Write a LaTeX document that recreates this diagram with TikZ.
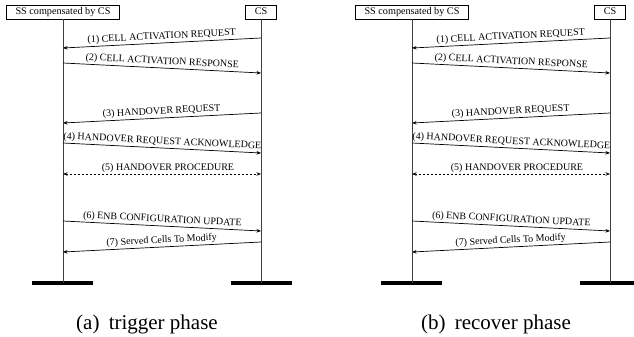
\documentclass[tikz,border=0pt]{standalone}
\usepackage{fontspec}
\setmainfont{Liberation Serif}
\usetikzlibrary{arrows.meta}
\tikzset{
  entity/.style={draw, line width=0.8pt, inner xsep=9pt, inner ysep=0pt,
    minimum height=14pt, text height=7pt, text depth=2pt,
    font=\fontsize{10.2}{12}\selectfont},
  msg/.style={line width=0.7pt, -{Stealth[length=4.5pt,width=3.5pt]}},
  dmsg/.style={line width=0.7pt, dash pattern=on 2.5pt off 1.5pt,
    {Stealth[length=4.5pt,width=3.5pt]}-{Stealth[length=4.5pt,width=3.5pt]}},
  lbl/.style={font=\fontsize{10}{12}\selectfont, inner sep=1.5pt, sloped, above},
  life/.style={line width=1pt, draw=black!75},
  groundbar/.style={fill=black, draw=none, minimum width=61pt, minimum height=4pt, inner sep=0pt},
  captext/.style={font=\fontsize{21}{25}\selectfont, inner sep=0pt},
}
\newcommand\seqpanel[3]{%
\begin{scope}[xshift=#2pt]
  \node[entity] (#1ss) at (63,12) {SS compensated by CS};
  \node[entity] (#1cs) at (261,12) {CS};
  \node[groundbar] (#1ssg) at (62,283) {};
  \node[groundbar] (#1csg) at (261,283) {};
  \coordinate (#1ssb) at (63,283);
  \coordinate (#1csb) at (261,283);
  \draw[life] (#1ss.south) -- (#1ssb);
  \draw[life] (#1cs.south) -- (#1csb);
  % message end points
  \coordinate (#1r1) at (261,38);  \coordinate (#1l1) at (63,48);
  \coordinate (#1l2) at (63,63);   \coordinate (#1r2) at (261,73);
  \coordinate (#1r3) at (261,113); \coordinate (#1l3) at (63,123);
  \coordinate (#1l4) at (63,143);  \coordinate (#1r4) at (261,153);
  \coordinate (#1l5) at (63,174);  \coordinate (#1r5) at (261,174);
  \coordinate (#1l6) at (63,221);  \coordinate (#1r6) at (261,231);
  \coordinate (#1r7) at (261,242); \coordinate (#1l7) at (63,252);
  \draw[msg] (#1r1) -- node[lbl] (#1t1) {(1) CELL ACTIVATION REQUEST} (#1l1);
  \draw[msg] (#1l2) -- node[lbl] (#1t2) {(2) CELL ACTIVATION RESPONSE} (#1r2);
  \draw[msg] (#1r3) -- node[lbl] (#1t3) {(3) HANDOVER REQUEST} (#1l3);
  \draw[msg] (#1l4) -- node[lbl] (#1t4) {(4) HANDOVER REQUEST ACKNOWLEDGE} (#1r4);
  \draw[dmsg] (#1l5) -- node[lbl, xshift=6pt] (#1t5) {(5) HANDOVER PROCEDURE} (#1r5);
  \draw[msg] (#1l6) -- node[lbl] (#1t6) {(6) ENB CONFIGURATION UPDATE} (#1r6);
  \draw[msg] (#1r7) -- node[lbl] (#1t7) {(7) Served Cells To Modify} (#1l7);
  \node[captext] (#1cap) at (147,324) {#3};
\end{scope}}
\begin{document}
\begin{tikzpicture}[x=1pt, y=-1pt]
  \useasboundingbox (0,0) rectangle (634,337);
  \seqpanel{a}{0}{(a)\hspace{4pt} trigger phase}
  \seqpanel{b}{349}{(b)\hspace{4pt} recover phase}
\end{tikzpicture}
\end{document}
